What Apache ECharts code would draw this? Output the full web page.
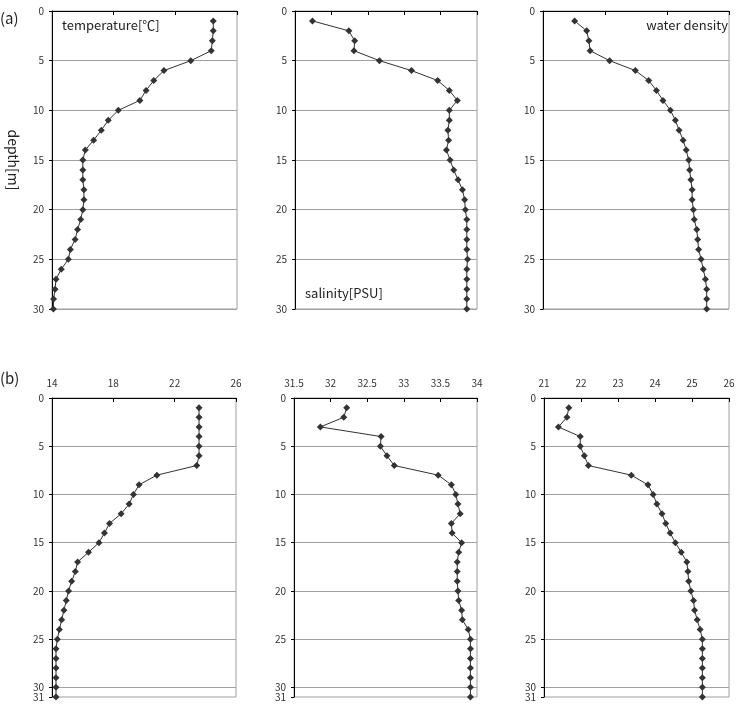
<!DOCTYPE html>
<html>
<head>
<meta charset="utf-8">
<script src="https://cdn.jsdelivr.net/npm/echarts@6/dist/echarts.min.js"></script>
<style>
  html, body { margin: 0; padding: 0; background: #fff; }
  #chart { width: 741px; height: 710px; }
</style>
</head>
<body>
<div id="chart"></div>
<script>
// depths [m]
const depthA = [1, 2, 3, 4, 5, 6, 7, 8, 9, 10, 11, 12, 13, 14, 15, 16, 17, 18, 19, 20, 21, 22, 23, 24, 25, 26, 27, 28, 29, 30]
const depthB = [1, 2, 3, 4, 5, 6, 7, 8, 9, 10, 11, 12, 13, 14, 15, 16, 17, 18, 19, 20, 21, 22, 23, 24, 25, 26, 27, 28, 29, 30, 31]

// (a) profiles
const tempA = [24.46, 24.46, 24.4, 24.33, 23.0, 21.26, 20.6, 20.1, 19.7, 18.3, 17.65, 17.2, 16.7, 16.16, 16.0,
    16.0, 16.0, 16.07, 16.07, 16.0, 15.86, 15.66, 15.5, 15.19, 15.06, 14.6, 14.26, 14.2, 14.1, 14.09]
const salA = [31.74, 32.24, 32.32, 32.31, 32.66, 33.1, 33.46, 33.62, 33.73, 33.62, 33.62, 33.6, 33.61, 33.58, 33.63,
    33.68, 33.74, 33.8, 33.83, 33.84, 33.86, 33.86, 33.86, 33.86, 33.87, 33.86, 33.86, 33.86, 33.86, 33.86]
const densA = [21.02, 21.41, 21.48, 21.52, 22.15, 22.98, 23.41, 23.66, 23.87, 24.11, 24.27, 24.39, 24.52, 24.62, 24.7,
    24.73, 24.77, 24.81, 24.81, 24.85, 24.88, 24.96, 24.99, 25.02, 25.1, 25.17, 25.24, 25.28, 25.28, 25.28]

// (b) profiles
const tempB = [23.59, 23.59, 23.59, 23.59, 23.59, 23.59, 23.44, 20.84, 19.68, 19.31, 19.03, 18.51, 17.75, 17.42, 17.06,
    16.38, 15.67, 15.52, 15.28, 15.08, 14.93, 14.78, 14.63, 14.48, 14.35, 14.26, 14.26, 14.26, 14.26, 14.26, 14.26]
const salB = [32.22, 32.18, 31.86, 32.69, 32.68, 32.77, 32.87, 33.47, 33.65, 33.71, 33.74, 33.77, 33.65, 33.66, 33.79,
    33.75, 33.73, 33.73, 33.73, 33.74, 33.75, 33.79, 33.8, 33.88, 33.91, 33.91, 33.91, 33.91, 33.91, 33.91, 33.91]
const densB = [21.67, 21.62, 21.39, 21.98, 21.98, 22.09, 22.2, 23.36, 23.81, 23.95, 24.05, 24.19, 24.29, 24.41, 24.55,
    24.71, 24.86, 24.89, 24.91, 24.97, 25.04, 25.07, 25.14, 25.22, 25.28, 25.28, 25.28, 25.28, 25.28, 25.28, 25.28]

// x-axis ranges [min, max, interval]
const tempRange = [14, 26, 4]
const salRange = [31.5, 34, 0.5]
const densRangeA = [20, 26, 2]
const densRangeB = [21, 26, 1]

// depth ticks
const depthTicks = [0, 5, 10, 15, 20, 25, 30]
const depthMaxA = 30
const depthMaxB = 31

const FONT = '"Noto Sans CJK JP", "Noto Sans", sans-serif'

const grids = [
    { left: 52, top: 11, width: 185, height: 298 },
    { left: 295, top: 11, width: 182, height: 298 },
    { left: 543, top: 11, width: 186, height: 298 },
    { left: 52, top: 398, width: 184, height: 299 },
    { left: 294, top: 398, width: 183, height: 299 },
    { left: 544, top: 398, width: 185, height: 299 },
].map((g) => Object.assign({ show: true, borderColor: '#a0a0a0', borderWidth: 1, backgroundColor: 'transparent' }, g))

const xRanges = [tempRange, salRange, densRangeA, tempRange, salRange, densRangeB]

const xAxes = xRanges.map((r, i) => ({
    type: 'value',
    gridIndex: i,
    position: 'top',
    min: r[0],
    max: r[1],
    interval: r[2],
    axisLine: { show: true, lineStyle: { color: '#000', width: 1 } },
    axisTick: { show: true, inside: true, length: 4, lineStyle: { color: '#000' } },
    axisLabel: { show: i >= 3, color: '#333', fontSize: 10, fontFamily: FONT, margin: 10 },
    splitLine: { show: false },
}))

const labelStyle = { color: '#333', fontSize: 10, fontFamily: FONT, margin: 8 }

// main depth axes (0..30 labels + grid lines)
const yAxes = [0, 1, 2, 3, 4, 5].map((i) => ({
    type: 'value',
    gridIndex: i,
    position: 'left',
    inverse: true,
    min: 0,
    max: i < 3 ? depthMaxA : depthMaxB,
    interval: 5,
    axisLine: { show: true, lineStyle: { color: '#000', width: 1 } },
    axisTick: { show: true, length: 3, lineStyle: { color: '#000' }, customValues: depthTicks },
    axisLabel: Object.assign({ customValues: depthTicks }, labelStyle),
    splitLine: { show: true, lineStyle: { color: '#a0a0a0', width: 1 } },
}))

// extra axes for the bottom row that only carry the "31" label
;[3, 4, 5].forEach((i) => {
    yAxes.push({
        type: 'value',
        gridIndex: i,
        position: 'left',
        inverse: true,
        min: 0,
        max: depthMaxB,
        axisLine: { show: false },
        axisTick: { show: true, length: 3, lineStyle: { color: '#000' }, customValues: [depthMaxB] },
        axisLabel: Object.assign({ customValues: [depthMaxB] }, labelStyle),
        splitLine: { show: false },
    })
})

const profiles = [
    [tempA, depthA], [salA, depthA], [densA, depthA],
    [tempB, depthB], [salB, depthB], [densB, depthB],
]

const series = profiles.map((p, i) => ({
    type: 'line',
    xAxisIndex: i,
    yAxisIndex: i,
    data: p[0].map((v, k) => [v, p[1][k]]),
    symbol: 'diamond',
    symbolSize: 7,
    showSymbol: true,
    lineStyle: { color: '#333', width: 1 },
    itemStyle: { color: '#333' },
    animation: false,
}))

const txt = (x, y, text, size, extra) => Object.assign({
    type: 'text',
    x: x,
    y: y,
    style: { text: text, fill: '#222', fontSize: size, fontFamily: FONT },
}, extra || {})

const graphic = [
    txt(0, 11, '(a)', 15),
    txt(0, 371, '(b)', 15),
    txt(62, 19, 'temperature[℃]', 13),
    txt(305, 287, 'salinity[PSU]', 13),
    { type: 'text', x: 728, y: 19, style: { text: 'water density', fill: '#222', fontSize: 13, fontFamily: FONT, align: 'right' } },
    { type: 'text', x: 13, y: 160, rotation: -Math.PI / 2, style: { text: 'depth[m]', fill: '#222', fontSize: 14, fontFamily: FONT, align: 'center', verticalAlign: 'middle' } },
]

const chart = echarts.init(document.getElementById('chart'))
chart.setOption({
    animation: false,
    grid: grids,
    xAxis: xAxes,
    yAxis: yAxes,
    series: series,
    graphic: graphic,
})
</script>
</body>
</html>
